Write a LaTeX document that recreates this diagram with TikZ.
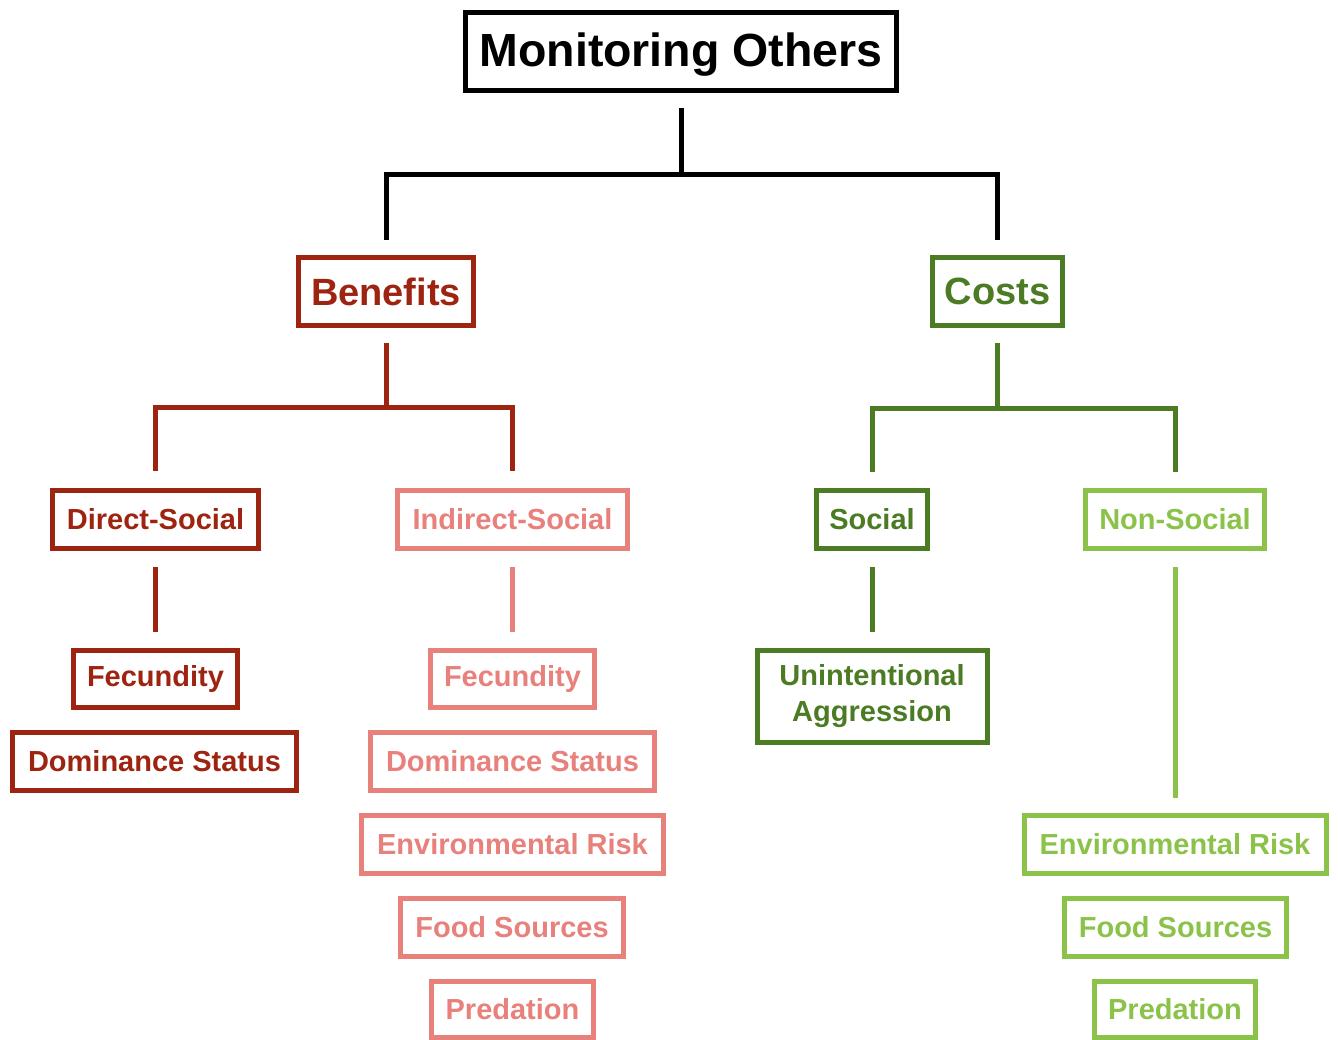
\documentclass[tikz,border=0pt]{standalone}
\usepackage{fontspec}
\setmainfont{Liberation Sans}
\usetikzlibrary{calc}
\definecolor{dred}{HTML}{9E2412}
\definecolor{lred}{HTML}{E8807C}
\definecolor{dgreen}{HTML}{4B7B23}
\definecolor{lgreen}{HTML}{8BC34A}
\tikzset{
  box/.style={draw=#1, text=#1, line width=5pt, inner sep=0pt, align=center, font=\bfseries\fontsize{29}{36}\selectfont},
  conn/.style={draw=#1, line width=5pt, line join=miter},
}
\begin{document}
\begin{tikzpicture}[x=1pt,y=-1pt]
\useasboundingbox (0,0) rectangle (1338,1040);
% level 1
\node[box=black, minimum width=431pt, minimum height=78pt, text depth=4pt, font=\bfseries\fontsize{46.5}{50}\selectfont] (mo) at (681,51.5) {Monitoring Others};
% level 2
\node[box=dred, minimum width=175pt, minimum height=68pt, font=\bfseries\fontsize{38}{44}\selectfont] (ben) at (386,291.5) {Benefits};
\node[box=dgreen, minimum width=130pt, minimum height=68pt, font=\bfseries\fontsize{38}{44}\selectfont] (cost) at (997.5,291.5) {Costs};
% level 3
\node[box=dred, minimum width=206pt, minimum height=58pt] (ds) at (155.5,519.5) {Direct-Social};
\node[box=lred, minimum width=230pt, minimum height=58pt] (is) at (512.5,519.5) {Indirect-Social};
\node[box=dgreen, minimum width=111pt, minimum height=58pt] (soc) at (872,519.5) {Social};
\node[box=lgreen, minimum width=179pt, minimum height=58pt] (ns) at (1175,519.5) {Non-Social};
% direct social leaves
\node[box=dred, minimum width=164pt, minimum height=57pt] (f1) at (155.5,679) {Fecundity};
\node[box=dred, minimum width=284pt, minimum height=58pt] (d1) at (154.5,761.5) {Dominance Status};
% indirect social leaves
\node[box=lred, minimum width=164pt, minimum height=57pt] (f2) at (512.5,679) {Fecundity};
\node[box=lred, minimum width=284pt, minimum height=58pt] (d2) at (512.5,761.5) {Dominance Status};
\node[box=lred, minimum width=302pt, minimum height=58pt] (e2) at (512.5,844.5) {Environmental Risk};
\node[box=lred, minimum width=223pt, minimum height=58pt] (fs2) at (512,927.5) {Food Sources};
\node[box=lred, minimum width=162pt, minimum height=56pt] (p2) at (512.5,1009.5) {Predation};
% social leaves
\node[box=dgreen, minimum width=230pt, minimum height=92pt] (ua) at (872,696.5) {Unintentional\\Aggression};
% non-social leaves
\node[box=lgreen, minimum width=302pt, minimum height=58pt] (e3) at (1175,844.5) {Environmental Risk};
\node[box=lgreen, minimum width=222pt, minimum height=58pt] (fs3) at (1175.5,927.5) {Food Sources};
\node[box=lgreen, minimum width=161pt, minimum height=56pt] (p3) at (1175,1009.5) {Predation};
% junction coordinates
\coordinate (h1) at (0,175);
\coordinate (h2) at (0,407);
\coordinate (h3) at (0,408);
% connectors
\draw[conn=black] ($(mo.south)+(0,15)$) -- (mo.south |- h1);
\draw[conn=black] ($(ben.north)+(0,-15)$) -- (ben.north |- h1) -- (cost.north |- h1) -- ($(cost.north)+(0,-15)$);
\draw[conn=dred] ($(ben.south)+(0,15)$) -- (ben.south |- h2);
\draw[conn=dred] ($(ds.north)+(0,-17)$) -- (ds.north |- h2) -- (is.north |- h2) -- ($(is.north)+(0,-17)$);
\draw[conn=dgreen] ($(cost.south)+(0,15)$) -- (cost.south |- h3);
\draw[conn=dgreen] ($(soc.north)+(0,-16)$) -- (soc.north |- h3) -- (ns.north |- h3) -- ($(ns.north)+(0,-16)$);
\draw[conn=dred] ($(ds.south)+(0,16)$) -- ($(f1.north)+(0,-16)$);
\draw[conn=lred] ($(is.south)+(0,16)$) -- ($(f2.north)+(0,-16)$);
\draw[conn=dgreen] ($(soc.south)+(0,16)$) -- ($(ua.north)+(0,-16)$);
\draw[conn=lgreen] ($(ns.south)+(0,16)$) -- ($(e3.north)+(0,-15)$);
\end{tikzpicture}
\end{document}
